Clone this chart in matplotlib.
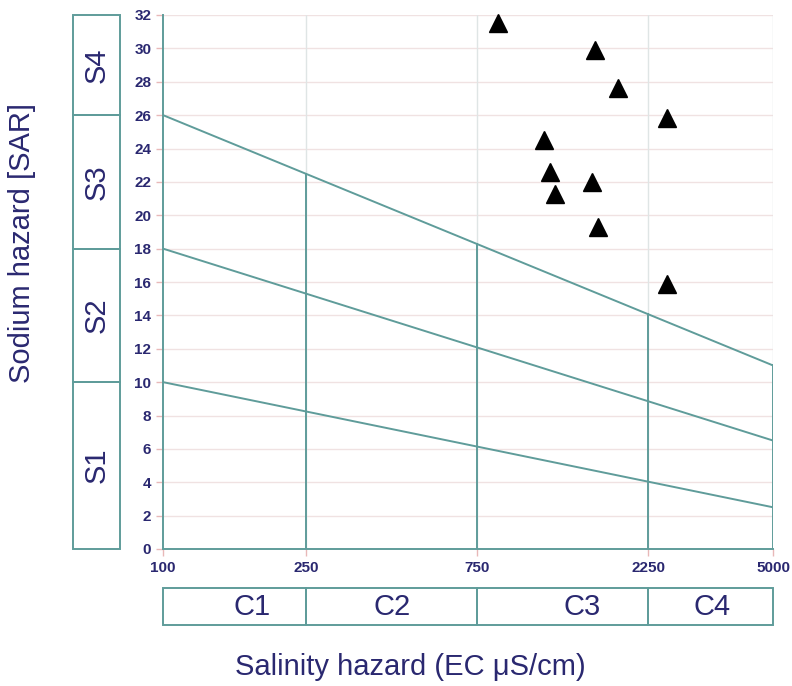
import numpy as np
import matplotlib
matplotlib.use("Agg")
import matplotlib.pyplot as plt
from matplotlib.patches import Rectangle
from matplotlib.transforms import blended_transform_factory

# sample points (EC in uS/cm, SAR)
ec = [858, 1597, 1850, 2535, 1151, 1197, 1236, 1567, 1629, 2535]
sar = [31.5, 29.9, 27.6, 25.8, 24.5, 22.6, 21.3, 22.0, 19.3, 15.9]

# class boundaries
ec_ticks = [100, 250, 750, 2250, 5000]
sar_ticks = list(range(0, 33, 2))
# SAR boundary lines: value at EC=100 and at EC=5000
line_left = [26, 18, 10]
line_right = [11, 6.5, 2.5]
s_bounds = [0, 10, 18, 26, 32]
s_labels = ["S1", "S2", "S3", "S4"]
c_labels = ["C1", "C2", "C3", "C4"]
c_label_x = [177, 434, 1469, 3381]

teal = "#5f9c9a"
navy = "#2a2870"

plt.rcParams['font.family'] = ['Liberation Sans', 'DejaVu Sans']

fig = plt.figure(figsize=(7.92, 6.86), dpi=100)
ax = fig.add_axes([163 / 792, 1 - 549 / 686, 610 / 792, 534 / 686])
ax.set_xscale("log")
ax.set_xlim(100, 5000)
ax.set_ylim(0, 32)

# grid
for y in sar_ticks[1:]:
    ax.axhline(y, color="#f0e2e2", lw=1, zorder=0)
for x in ec_ticks[1:]:
    ax.axvline(x, color="#dfe5e5", lw=1, zorder=0)

# boundary lines
for yl, yr in zip(line_left, line_right):
    ax.plot([100, 5000], [yl, yr], color=teal, lw=1.4, zorder=2)

# vertical class lines up to top boundary
def top_at(x):
    t = (np.log10(x) - 2) / (np.log10(5000) - 2)
    return line_left[0] + (line_right[0] - line_left[0]) * t

for x in ec_ticks[1:4]:
    ax.plot([x, x], [0, top_at(x)], color=teal, lw=1.4, zorder=2)
ax.plot([5000, 5000], [0, line_right[0]], color=teal, lw=1.4, zorder=2)
ax.plot([100, 100], [0, 32], color=teal, lw=1.4, zorder=2, clip_on=False)
ax.plot([100, 5000], [0, 0], color=teal, lw=1.4, zorder=2, clip_on=False)

ax.plot(ec, sar, "^", color="black", ms=12.5, zorder=3, clip_on=False)

for s in ax.spines.values():
    s.set_visible(False)

ax.set_xticks(ec_ticks)
ax.set_xticklabels([str(v) for v in ec_ticks])
ax.xaxis.set_minor_locator(matplotlib.ticker.NullLocator())
ax.set_yticks(sar_ticks)
ax.tick_params(axis="both", colors="#e8b8b8", length=5, width=1,
               labelcolor=navy, labelsize=11)
for lab in ax.get_xticklabels() + ax.get_yticklabels():
    lab.set_fontweight("bold")

# S boxes on the left
tr_s = blended_transform_factory(fig.transFigure, ax.transData)
for lo, hi, lab in zip(s_bounds[:-1], s_bounds[1:], s_labels):
    ax.add_patch(Rectangle((73 / 792, lo), 47 / 792, hi - lo, transform=tr_s,
                           fill=False, ec=teal, lw=1.4, clip_on=False))
    ax.text(97 / 792, (lo + hi) / 2, lab, transform=tr_s, rotation=90,
            ha="center", va="center", color=navy, fontsize=21)

# C boxes at the bottom
tr_c = blended_transform_factory(ax.transData, fig.transFigure)
for lo, hi in zip(ec_ticks[:-1], ec_ticks[1:]):
    ax.add_patch(Rectangle((lo, 1 - 625 / 686), hi - lo, 37 / 686, transform=tr_c,
                           fill=False, ec=teal, lw=1.4, clip_on=False))
for x, lab in zip(c_label_x, c_labels):
    ax.text(x, 1 - 607 / 686, lab, transform=tr_c, ha="center", va="center",
            color=navy, fontsize=21)

fig.text(22 / 792, 1 - 243 / 686, "Sodium hazard [SAR]", rotation=90,
         ha="center", va="center", color=navy, fontsize=21)
fig.text(410 / 792, 1 - 667 / 686, "Salinity hazard (EC μS/cm)",
         ha="center", va="center", color=navy, fontsize=21)

fig.savefig("out.png", dpi=100)
